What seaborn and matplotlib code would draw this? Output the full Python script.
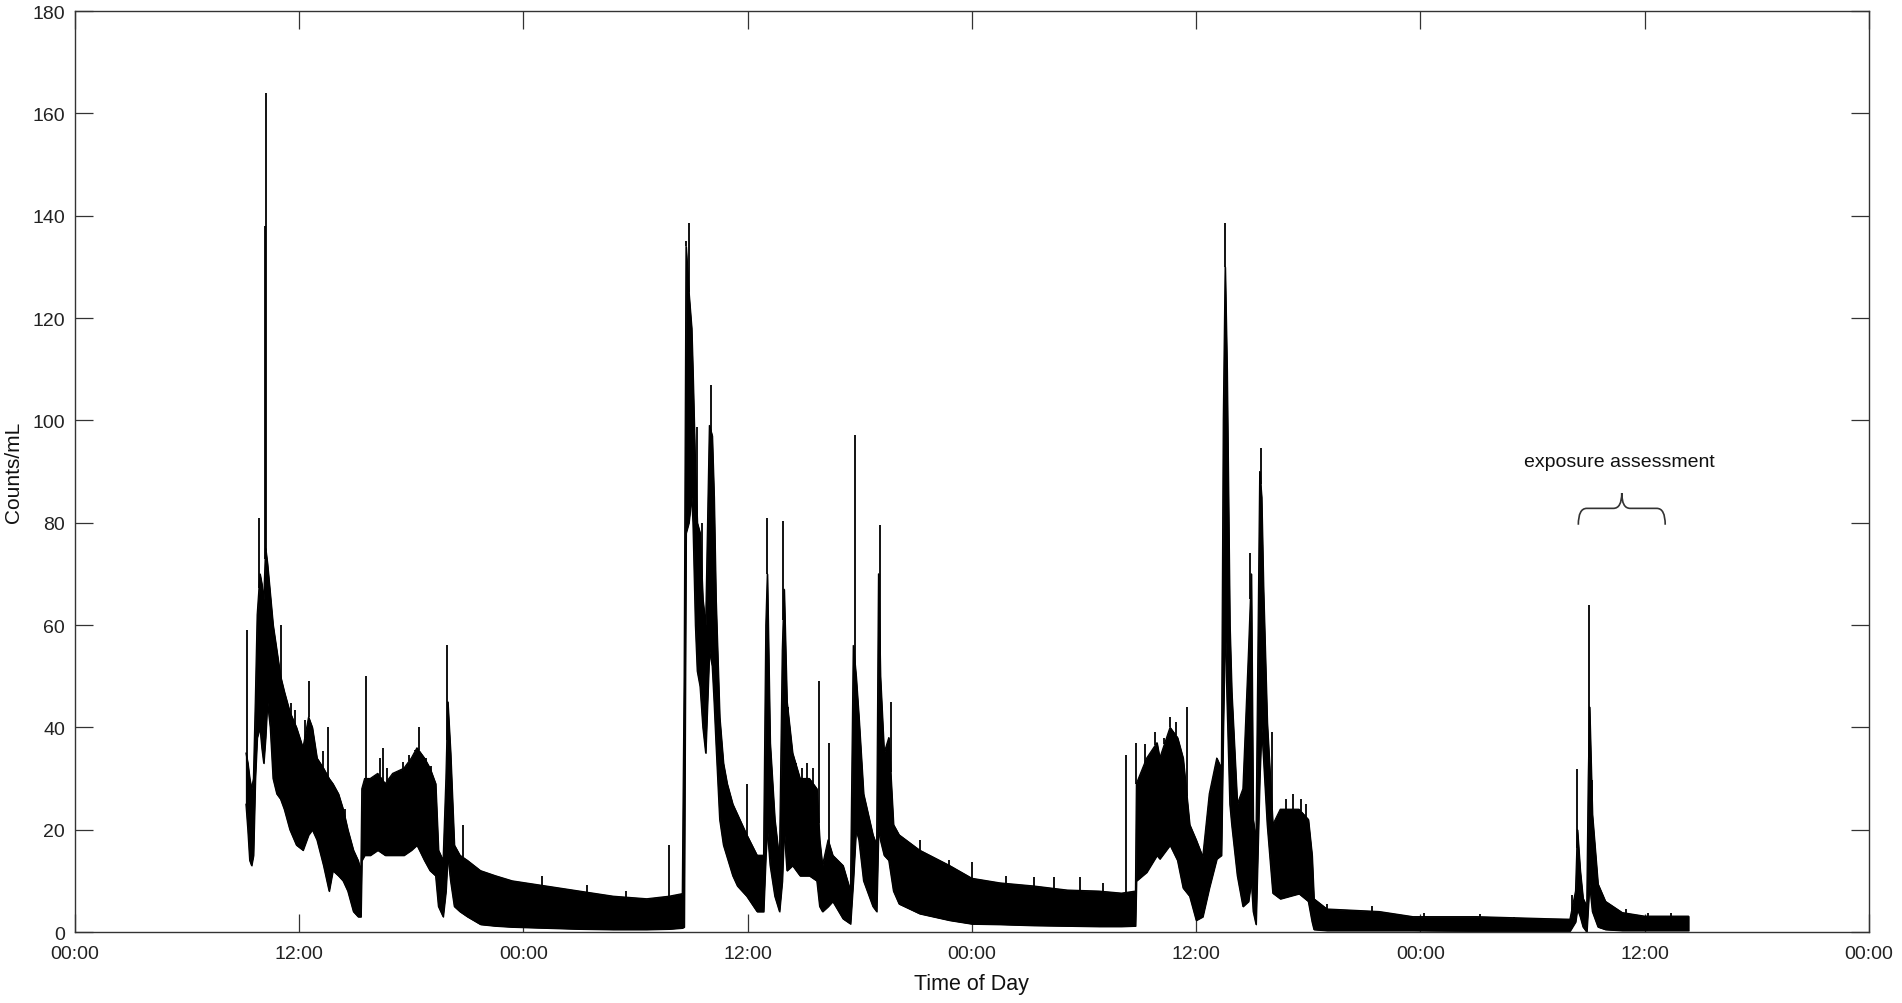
import matplotlib
matplotlib.use("Agg")
import matplotlib.pyplot as plt
import numpy as np
import pandas as pd
import seaborn as sns
from matplotlib.path import Path
from matplotlib.patches import PathPatch

# hours since 00:00 of the first day, with the lower / upper edge of the noisy trace
env_hours = [
  9.15, 9.25, 9.35, 9.45, 9.55, 9.65, 9.75, 9.9, 10.0, 10.1, 10.2, 10.3, 10.45,
  10.6, 10.8, 11.0, 11.2, 11.5, 11.85, 12.2, 12.5, 12.7, 12.95, 13.3, 13.6, 13.8,
  14.1, 14.35, 14.6, 14.9, 15.15, 15.3, 15.35, 15.5, 15.8, 16.2, 16.6, 17.0,
  17.6, 18.0, 18.3, 18.7, 19.0, 19.3, 19.45, 19.7, 19.85, 19.95, 20.1, 20.3,
  20.6, 21.0, 21.7, 22.5, 23.4, 25.2, 27.0, 28.8, 30.6, 31.8, 32.5,
  32.6, 32.7, 32.85, 33.0, 33.07, 33.2, 33.3, 33.45, 33.6, 33.75, 33.85, 33.95,
  34.1, 34.2, 34.3, 34.5, 34.7, 34.9, 35.2, 35.45, 35.95, 36.5, 36.85, 36.97,
  37.05, 37.2, 37.45, 37.7, 37.85, 37.95, 38.1, 38.4, 38.8, 39.3, 39.7, 39.85,
  40.0, 40.3, 40.55, 41.1, 41.5, 41.65, 41.8, 41.95, 42.2, 42.7, 42.9, 43.0,
  43.1, 43.3, 43.55, 43.8, 44.1, 45.2, 46.8, 48.0, 49.5, 51.3, 53.1, 54.8,
  56.0, 56.75,
  56.8, 57.35, 57.9, 58.05, 58.6, 59.0, 59.3, 59.65, 60.0, 60.35, 60.7, 61.1,
  61.35, 61.45, 61.55, 61.65, 61.8, 61.9, 62.2, 62.5, 62.8, 62.95, 63.05, 63.2,
  63.4, 63.5, 63.6, 63.8, 64.1, 64.5, 65.5, 66.0, 66.2, 66.3, 67.0, 69.8,
  71.6, 75.0, 78.8, 80.0, 80.3, 80.4, 80.55, 80.7, 80.9, 80.98, 81.05, 81.2,
  81.5, 81.9, 82.8, 84.0, 86.35,
]
env_low = [
  25, 20, 14, 13, 15, 30, 38, 40, 36, 33, 38, 45, 40,
  30, 27, 26, 24, 20, 17, 16, 19, 20, 18, 13, 8, 12,
  11, 10, 8, 4, 3, 3, 14, 15, 15, 16, 15, 15,
  15, 16, 17, 14, 12, 11, 5, 3, 8, 15, 10, 5,
  4, 3, 1.5, 1.2, 1, 0.8, 0.6, 0.5, 0.5, 0.6, 0.8,
  1, 78, 80, 85, 80, 60, 51, 48, 40, 35, 45, 55,
  52, 45, 37, 22, 17, 14.6, 11, 9, 7, 4, 4, 15,
  20, 13, 7, 4, 10, 20, 12, 13, 11, 11, 10, 5,
  4, 5, 6, 2.6, 1.6, 10, 20, 18, 10, 5, 4, 20,
  18, 15, 14, 8, 5.5, 3.6, 2.3, 1.6, 1.5, 1.3, 1.2, 1.1,
  1.1, 1.2,
  10, 11.7, 15, 14.3, 17, 14, 8.6, 7, 2.3, 3, 8.6, 14.3,
  15, 40, 60, 45, 25, 21, 11, 5, 6, 10, 4, 1.5,
  30, 40, 34, 21, 7.6, 6.5, 7.5, 6, 2, 0.5, 0.3, 0.3,
  0.3, 0.2, 0.2, 0.2, 2, 4.5, 3, 1, 0, 5, 9.4, 4,
  1, 0.5, 0.3, 0.3, 0.3,
]
env_high = [
  35, 33, 30, 28, 30, 45, 62, 70, 68, 65, 75, 72, 66,
  60, 55, 50, 47, 43, 40, 36, 42, 40, 34, 32, 30, 29,
  27, 24, 20, 16, 14, 12, 28, 30, 30, 31, 29, 31,
  32, 34, 36, 34, 32, 29, 16, 14, 30, 45, 35, 17,
  15, 14, 12, 11, 10, 9, 8, 7, 6.5, 7, 7.5,
  50, 134, 125, 118, 109, 90, 80, 78, 65, 60, 80, 99,
  97, 85, 65, 42, 33, 29, 25, 23, 19, 15, 15, 60,
  70, 37, 22, 14, 55, 67, 45, 35, 30, 30, 28, 18,
  13, 18, 15, 13, 8, 56, 50, 42, 27, 19, 17, 70,
  50, 35, 38, 21, 19, 16, 13, 10.5, 9.6, 9, 8.2, 8,
  7.6, 8,
  29, 34, 37, 34, 40, 38, 34, 21, 18, 14.7, 27, 34,
  32, 100, 130, 110, 60, 47, 25, 28, 55, 70, 22, 18,
  90, 85, 67, 41, 21, 24, 24, 22, 15, 6.5, 4.5, 4,
  3, 3, 2.6, 2.5, 8, 20, 12, 6.6, 5, 30, 44, 23,
  9.4, 6, 3.8, 3.1, 3.1,
]

# narrow single-sample spikes sticking out of the envelope
spike_hours = [
  9.22, 9.85, 10.18, 10.22, 11.05, 12.5, 13.55, 15.58, 16.5, 18.4, 19.9, 20.75,
  31.8, 32.7, 32.85, 33.3, 33.55, 34.05, 35.95, 37.05, 37.9, 38.15, 38.6, 39.8,
  40.35, 41.75, 43.08, 43.65, 56.25, 56.8, 57.8, 58.6, 59.5, 61.55, 62.9,
  63.45, 64.05, 80.1, 80.37, 81.0, 81.2,
  # smaller ones along the edges
  11.56, 11.77, 12.3, 13.29, 14.18, 14.45, 16.3, 16.7, 17.55, 17.9, 18.2, 18.8,
  19.08, 21.8, 23.6, 25.0, 27.4, 29.5, 38.9, 39.2, 39.5, 45.2, 46.8, 48.0,
  49.8, 51.3, 52.4, 53.8, 55.0, 57.25, 58.3, 58.9, 64.8, 65.2, 65.6, 65.9,
  67.0, 69.4, 72.2, 75.2, 77.0, 83.0, 84.2, 85.4,
]
spike_peaks = [
  59, 81, 138, 164, 60, 49, 40, 50, 36, 40, 56, 21,
  17, 135, 138.5, 98.7, 80, 107, 29, 81, 80.4, 44, 33, 49,
  37, 97.2, 79.5, 45, 34.5, 37, 39, 42, 44, 138.5, 74,
  94.6, 39, 7.3, 31.8, 64, 29.7,
  44.8, 43.4, 41.4, 35.4, 23.5, 24, 34, 32, 33.3, 34.6, 35.6, 34,
  32.5, 11.3, 9.8, 11, 9.2, 8, 32, 33, 32, 18, 14, 13.7,
  11, 10.7, 10.7, 10.7, 9.6, 36.7, 38, 41, 26, 27, 26, 25,
  5.5, 5, 3.8, 3.5, 3, 4.5, 3.8, 3.8,
]

tick_hours = [0, 12, 24, 36, 48, 60, 72, 84, 96]
tick_labels = ["00:00", "12:00", "00:00", "12:00", "00:00", "12:00", "00:00", "12:00", "00:00"]
y_ticks = [0, 20, 40, 60, 80, 100, 120, 140, 160, 180]

note_text = "exposure assessment"
note_hours = [80.45, 85.1]  # span of the brace

sns.set_theme(style="ticks")
plt.rcParams["font.family"] = ["Liberation Sans", "DejaVu Sans"]

trace = pd.DataFrame({"hours": env_hours, "low": env_low, "high": env_high})

fig = plt.figure(figsize=(19.02, 10.04), dpi=100)
ax = fig.add_axes([0.0394, 0.0707, 0.9432, 0.9173])

ax.fill_between(trace["hours"], trace["low"], trace["high"], color="black", lw=0.8)
sns.lineplot(data=trace, x="hours", y="high", color="black", lw=0.9, ax=ax)
sns.lineplot(data=trace, x="hours", y="low", color="black", lw=0.9, ax=ax)
spike_base = np.interp(spike_hours, env_hours, env_high)
ax.vlines(spike_hours, spike_base, spike_peaks, color="black", lw=1.3)

# curly brace over the exposure assessment
x0, x1 = note_hours
xm = (x0 + x1) / 2
brace = Path(
  [(x0, 79.6), (x0, 82.8), (x0 + 0.45, 82.8), (xm - 0.45, 82.8), (xm, 82.8), (xm, 85.8),
   (xm, 82.8), (xm + 0.45, 82.8), (x1 - 0.45, 82.8), (x1, 82.8), (x1, 79.6)],
  [Path.MOVETO, Path.CURVE3, Path.CURVE3, Path.LINETO, Path.CURVE3, Path.CURVE3,
   Path.CURVE3, Path.CURVE3, Path.LINETO, Path.CURVE3, Path.CURVE3],
)
ax.add_patch(PathPatch(brace, fill=False, edgecolor="#333333", lw=1.2))
ax.text(82.66, 92, note_text, ha="center", va="center", fontsize=14, color="#111111")

ax.set_xlim(0, 96)
ax.set_ylim(0, 180)
ax.set_xticks(tick_hours)
ax.set_xticklabels(tick_labels)
ax.set_yticks(y_ticks)
ax.tick_params(direction="in", length=13, width=0.9, color="#333333",
               labelsize=14, labelcolor="#222222", top=True, right=True, pad=7)
ax.tick_params(axis="x", pad=9)
for side in ax.spines.values():
  side.set_visible(True)
  side.set_color("#333333")
  side.set_linewidth(1.0)

ax.set_xlabel("Time of Day", fontsize=15.5, color="#111111")
ax.set_ylabel("Counts/mL", fontsize=15, color="#111111")
ax.yaxis.set_label_coords(-0.029, 0.5)
ax.xaxis.set_label_coords(0.5, -0.045)

fig.savefig("out.png", dpi=100)
plt.close(fig)
